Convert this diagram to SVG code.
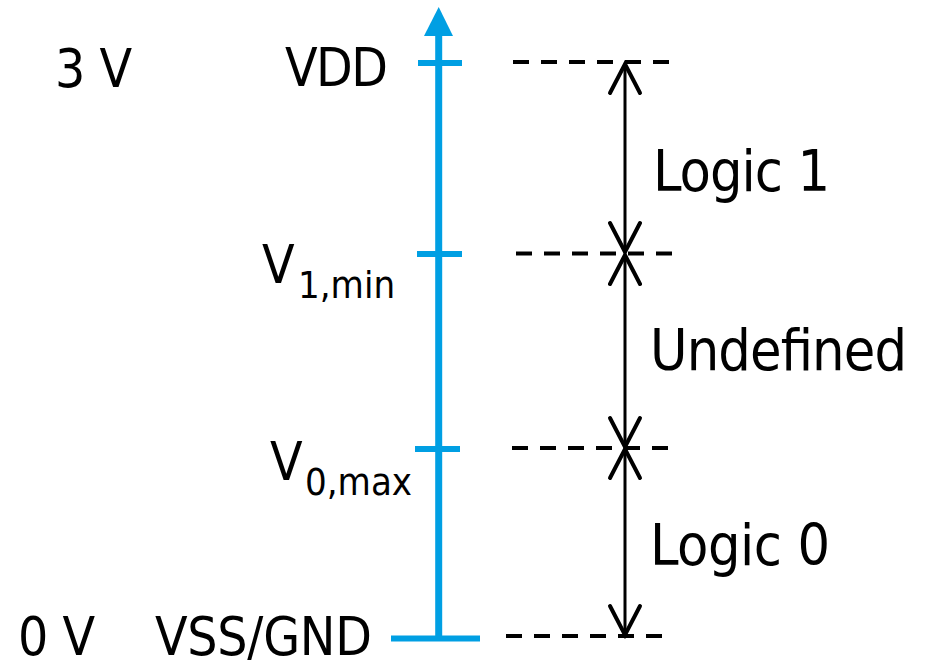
<svg xmlns="http://www.w3.org/2000/svg" width="926" height="669" viewBox="0 0 926 669">
  <style>
    .t { font-family: "DejaVu Sans Condensed", "DejaVu Sans", sans-serif; font-stretch: condensed; fill: #000; }
    .big { font-size: 57px; }
    .mid { font-size: 53px; }
    .sub { font-size: 38px; }
    .axis { stroke: #009FE3; fill: none; }
    .dash { stroke: #000; stroke-width: 4; stroke-dasharray: 16 12; fill: none; }
    .shaft { stroke: #000; stroke-width: 3; fill: none; }
    .head { stroke: #000; stroke-width: 4; stroke-linecap: round; stroke-linejoin: miter; fill: none; }
  </style>
  <rect width="926" height="669" fill="#fff"/>

  <g id="axis">
    <line class="axis" x1="438.7" y1="34" x2="438.7" y2="638.6" stroke-width="7"/>
    <polygon points="424,36 453,36 438.7,7" fill="#009FE3"/>
    <line class="axis" x1="418" y1="63" x2="462" y2="63" stroke-width="6"/>
    <line class="axis" x1="417" y1="254" x2="462" y2="254" stroke-width="6"/>
    <line class="axis" x1="415" y1="449" x2="460" y2="449" stroke-width="6"/>
    <line class="axis" x1="391" y1="638.6" x2="480" y2="638.6" stroke-width="6"/>
  </g>

  <g id="connectors">
    <line class="dash" x1="513" y1="62" x2="669" y2="62"/>
    <line class="dash" x1="516" y1="253.5" x2="673" y2="253.5"/>
    <line class="dash" x1="512" y1="448" x2="668" y2="448"/>
    <line class="dash" x1="506" y1="636" x2="662" y2="636"/>

    <line class="shaft" x1="625" y1="64" x2="625" y2="252"/>
    <polyline class="head" points="610,93 625,64 640,93"/>
    <polyline class="head" points="610,223 625,252 640,223"/>

    <line class="shaft" x1="625" y1="255" x2="625" y2="447"/>
    <polyline class="head" points="610,284 625,255 640,284"/>
    <polyline class="head" points="610,418 625,447 640,418"/>

    <line class="shaft" x1="625" y1="449" x2="625" y2="635"/>
    <polyline class="head" points="610,478 625,449 640,478"/>
    <polyline class="head" points="610,606 625,635 640,606"/>
  </g>

  <g id="label-3v"><text class="t mid" x="55" y="87" textLength="77">3 V</text></g>
  <g id="label-vdd"><text class="t mid" x="285" y="86" textLength="103">VDD</text></g>
  <g id="label-v1min"><text class="t mid" x="262" y="283">V<tspan class="sub" x="298" y="298">1,min</tspan></text></g>
  <g id="label-v0max"><text class="t mid" x="270" y="480">V<tspan class="sub" x="305" y="495">0,max</tspan></text></g>
  <g id="label-0v"><text class="t mid" x="18" y="655" textLength="77">0 V</text></g>
  <g id="label-vss"><text class="t mid" x="155" y="655" textLength="217">VSS/GND</text></g>

  <g id="label-logic1"><text class="t big" x="653" y="191" textLength="177">Logic 1</text></g>
  <g id="label-undefined"><text class="t big" x="650" y="370" textLength="257">Undefined</text></g>
  <g id="label-logic0"><text class="t big" x="650" y="565" textLength="180">Logic 0</text></g>
</svg>
